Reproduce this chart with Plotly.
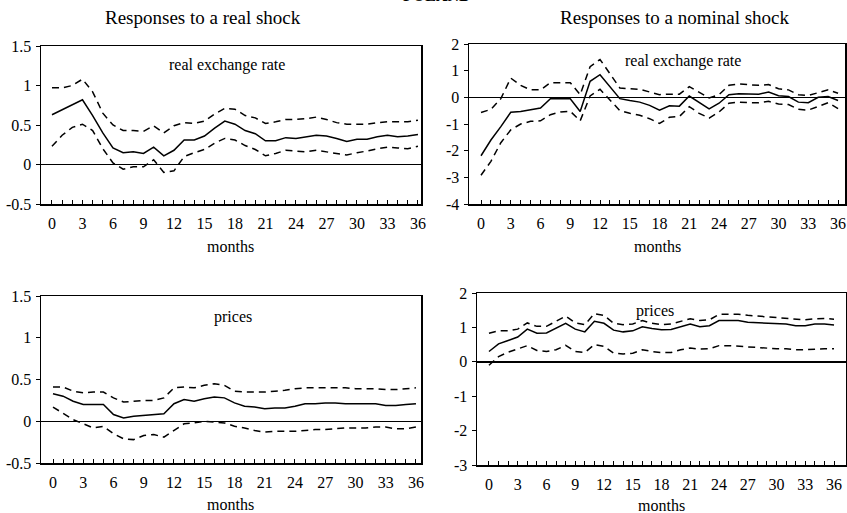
import plotly.graph_objects as go

months = list(range(37))
tick_labels = [str(m) if m % 3 == 0 else "" for m in months]

# Real shock -> real exchange rate
rs_rer_mid = [0.63, 0.69, 0.76, 0.82, 0.62, 0.40, 0.21, 0.15, 0.16, 0.14, 0.22, 0.11, 0.18, 0.31, 0.31, 0.36,
              0.46, 0.55, 0.51, 0.43, 0.39, 0.30, 0.30, 0.34, 0.33, 0.35, 0.37, 0.36, 0.33, 0.29, 0.32, 0.32,
              0.35, 0.37, 0.35, 0.36, 0.38]
rs_rer_up = [0.97, 0.97, 1.00, 1.08, 0.92, 0.65, 0.50, 0.43, 0.43, 0.42, 0.49, 0.40, 0.49, 0.53, 0.52, 0.55,
             0.64, 0.71, 0.70, 0.62, 0.59, 0.52, 0.54, 0.57, 0.57, 0.58, 0.60, 0.57, 0.53, 0.51, 0.51, 0.51,
             0.53, 0.54, 0.54, 0.54, 0.56]
rs_rer_lo = [0.23, 0.37, 0.47, 0.51, 0.43, 0.20, 0.02, -0.06, -0.03, -0.03, 0.06, -0.10, -0.08, 0.10, 0.15, 0.19,
             0.27, 0.33, 0.31, 0.24, 0.19, 0.11, 0.14, 0.18, 0.17, 0.16, 0.18, 0.16, 0.14, 0.12, 0.15, 0.17,
             0.20, 0.22, 0.21, 0.20, 0.23]

# Nominal shock -> real exchange rate
ns_rer_mid = [-2.19, -1.60, -1.10, -0.56, -0.53, -0.46, -0.40, -0.05, -0.05, -0.05, -0.53, 0.60, 0.85, 0.40, -0.05,
              -0.12, -0.18, -0.30, -0.48, -0.32, -0.33, 0.05, -0.20, -0.43, -0.22, 0.10, 0.13, 0.12, 0.12, 0.20,
              0.06, 0.03, -0.18, -0.20, 0.00, 0.03, -0.12]
ns_rer_up = [-0.57, -0.45, -0.05, 0.72, 0.45, 0.28, 0.28, 0.55, 0.55, 0.55, 0.10, 1.15, 1.42, 0.90, 0.35, 0.32,
             0.30, 0.20, 0.10, 0.12, 0.12, 0.40, 0.20, -0.02, 0.10, 0.45, 0.50, 0.48, 0.45, 0.48, 0.32, 0.28,
             0.10, 0.07, 0.18, 0.28, 0.15]
ns_rer_lo = [-2.92, -2.40, -1.70, -1.22, -1.00, -0.90, -0.88, -0.65, -0.55, -0.52, -0.88, 0.05, 0.30, -0.10, -0.50,
             -0.60, -0.67, -0.80, -0.98, -0.75, -0.72, -0.35, -0.60, -0.78, -0.55, -0.22, -0.18, -0.20, -0.20,
             -0.15, -0.25, -0.27, -0.45, -0.48, -0.35, -0.20, -0.42]

# Real shock -> prices
rs_p_mid = [0.33, 0.30, 0.24, 0.20, 0.20, 0.20, 0.08, 0.04, 0.06, 0.07, 0.08, 0.09, 0.21, 0.26, 0.24, 0.27,
            0.29, 0.28, 0.22, 0.18, 0.17, 0.15, 0.16, 0.16, 0.18, 0.21, 0.21, 0.22, 0.22, 0.21, 0.21, 0.21,
            0.21, 0.19, 0.19, 0.20, 0.21]
rs_p_up = [0.41, 0.41, 0.36, 0.34, 0.35, 0.35, 0.28, 0.23, 0.24, 0.25, 0.25, 0.28, 0.40, 0.41, 0.40, 0.43,
           0.45, 0.43, 0.36, 0.35, 0.35, 0.35, 0.36, 0.37, 0.39, 0.40, 0.40, 0.40, 0.40, 0.40, 0.39, 0.39,
           0.39, 0.38, 0.38, 0.39, 0.40]
rs_p_lo = [0.17, 0.09, 0.02, -0.03, -0.08, -0.06, -0.15, -0.21, -0.22, -0.17, -0.16, -0.19, -0.11, -0.03, -0.02,
           0.00, -0.01, -0.02, -0.06, -0.08, -0.11, -0.13, -0.12, -0.12, -0.12, -0.11, -0.10, -0.10, -0.09,
           -0.08, -0.08, -0.08, -0.07, -0.07, -0.09, -0.09, -0.07]

# Nominal shock -> prices
ns_p_mid = [0.30, 0.52, 0.62, 0.72, 0.95, 0.83, 0.84, 0.98, 1.12, 0.95, 0.87, 1.18, 1.12, 0.92, 0.87, 0.90,
            1.02, 0.97, 0.93, 0.94, 1.02, 1.10, 1.02, 1.05, 1.20, 1.20, 1.20, 1.15, 1.14, 1.12, 1.10, 1.10,
            1.05, 1.05, 1.10, 1.10, 1.07]
ns_p_up = [0.83, 0.90, 0.90, 0.95, 1.13, 1.03, 1.03, 1.17, 1.33, 1.13, 1.08, 1.40, 1.35, 1.12, 1.08, 1.10,
           1.20, 1.12, 1.08, 1.10, 1.18, 1.25, 1.20, 1.22, 1.38, 1.38, 1.38, 1.35, 1.33, 1.30, 1.30, 1.28,
           1.25, 1.22, 1.25, 1.26, 1.24]
ns_p_lo = [-0.10, 0.15, 0.28, 0.38, 0.47, 0.33, 0.30, 0.35, 0.48, 0.30, 0.27, 0.50, 0.45, 0.25, 0.23, 0.25,
           0.35, 0.30, 0.27, 0.27, 0.35, 0.40, 0.37, 0.38, 0.47, 0.47, 0.45, 0.42, 0.42, 0.40, 0.38, 0.38,
           0.35, 0.35, 0.37, 0.38, 0.38]

W, H = 847, 513
FONT = "Liberation Serif, Times New Roman, serif"

panels = [
    (rs_rer_mid, rs_rer_up, rs_rer_lo, (41, 421), (46, 204), [-1.08, 36.3], [-0.5, 1.5],
     [-0.5, 0, 0.5, 1, 1.5], ["-0.5", "0", "0.5", "1", "1.5"], "real exchange rate", (227, 65), 246),
    (ns_rer_mid, ns_rer_up, ns_rer_lo, (469, 845), (44, 204), [-1.21, 36.7], [-4, 2],
     [-4, -3, -2, -1, 0, 1, 2], ["-4", "-3", "-2", "-1", "0", "1", "2"], "real exchange rate", (683, 61), 246),
    (rs_p_mid, rs_p_up, rs_p_lo, (41, 421), (296, 463), [-1.19, 36.5], [-0.5, 1.5],
     [-0.5, 0, 0.5, 1, 1.5], ["-0.5", "0", "0.5", "1", "1.5"], "prices", (233, 317), 504),
    (ns_p_mid, ns_p_up, ns_p_lo, (477, 846), (293, 465), [-1.25, 37.25], [-3, 2],
     [-3, -2, -1, 0, 1, 2], ["-3", "-2", "-1", "0", "1", "2"], "prices", (655, 311), 505),
]

fig = go.Figure()
annotations = []
for i, (mid, up, lo, xd, yd, xr, yr, yv, yt, lab, lp, my) in enumerate(panels):
    n = "" if i == 0 else str(i + 1)
    xa, ya = "x" + n, "y" + n
    for series, dash in ((up, "7px,5px"), (lo, "7px,5px"), (mid, "solid")):
        fig.add_trace(go.Scatter(x=months, y=series, mode="lines", xaxis=xa, yaxis=ya,
                                 line=dict(color="black", width=1.5, dash=dash),
                                 showlegend=False, hoverinfo="skip"))
    fig.layout["xaxis" + n] = dict(
        domain=[xd[0] / W, xd[1] / W], anchor=ya, range=xr, automargin=False,
        tickmode="array", tickvals=months, ticktext=tick_labels,
        ticks="inside", ticklen=4, tickwidth=1, tickcolor="black",
        showline=True, mirror=True, linecolor="black", linewidth=1.5,
        showgrid=False, zeroline=False,
        tickfont=dict(family=FONT, size=16, color="black"), ticklabelstandoff=4,
    )
    fig.layout["yaxis" + n] = dict(
        domain=[1 - yd[1] / H, 1 - yd[0] / H], anchor=xa, range=yr, automargin=False,
        tickmode="array", tickvals=yv, ticktext=yt,
        ticks="outside", ticklen=4, tickwidth=1, tickcolor="black",
        showline=True, mirror=True, linecolor="black", linewidth=1.5,
        showgrid=False, zeroline=True, zerolinecolor="black", zerolinewidth=1.5,
        tickfont=dict(family=FONT, size=16, color="black"), ticklabelstandoff=1,
    )
    annotations.append(dict(text=lab, x=lp[0] / W, y=1 - lp[1] / H, xref="paper", yref="paper",
                            showarrow=False, xanchor="center", yanchor="middle",
                            font=dict(family=FONT, size=16, color="black")))
    annotations.append(dict(text="months", x=(xd[0] + xd[1]) / 2 / W, y=1 - my / H, xref="paper", yref="paper",
                            showarrow=False, xanchor="center", yanchor="middle",
                            font=dict(family=FONT, size=16, color="black")))

annotations.append(dict(text="Responses to a real shock", x=203 / W, y=1 - 17 / H, xref="paper", yref="paper",
                        showarrow=False, xanchor="center", yanchor="middle",
                        font=dict(family=FONT, size=19, color="black")))
annotations.append(dict(text="Responses to a nominal shock", x=675 / W, y=1 - 17 / H, xref="paper", yref="paper",
                        showarrow=False, xanchor="center", yanchor="middle",
                        font=dict(family=FONT, size=19, color="black")))
annotations.append(dict(text="<b>POLAND</b>", x=437 / W, y=1 - 6 / H, xref="paper", yref="paper",
                        showarrow=False, xanchor="center", yanchor="bottom",
                        font=dict(family=FONT, size=16, color="black")))

fig.update_layout(template="none", width=W, height=H, margin=dict(l=0, r=0, t=0, b=0, autoexpand=False),
                  plot_bgcolor="white", paper_bgcolor="white", annotations=annotations)

fig.write_html("out.html", config={"displayModeBar": False, "staticPlot": True},
               post_script="document.body.style.margin='0';document.body.style.overflow='hidden';")
